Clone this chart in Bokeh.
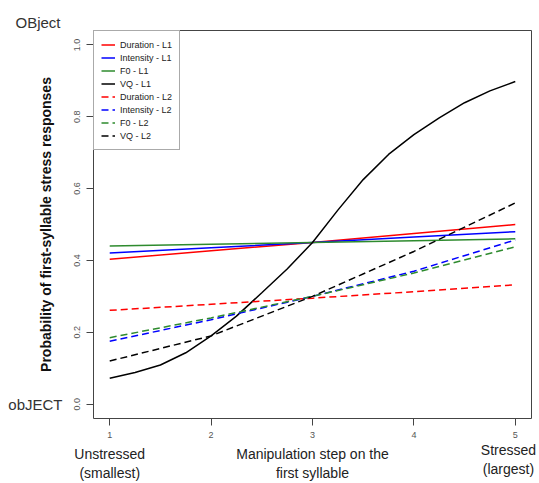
from bokeh.plotting import figure
from bokeh.models import (FixedTicker, Legend, LegendItem, Range1d, LinearAxis, Title)
from bokeh.embed import file_html
from bokeh.resources import INLINE

# ---- data ----
steps = [1, 2, 3, 4, 5]
vq_steps = [1, 1.25, 1.5, 1.75, 2, 2.25, 2.5, 2.75, 3, 3.25, 3.5, 3.75, 4, 4.25, 4.5, 4.75, 5]
duration_l1 = [0.403, 0.427, 0.45, 0.475, 0.50]
intensity_l1 = [0.421, 0.435, 0.45, 0.465, 0.48]
f0_l1 = [0.44, 0.445, 0.45, 0.455, 0.46]
vq_l1 = [0.072, 0.088, 0.109, 0.143, 0.19, 0.245, 0.31, 0.376, 0.45,
         0.54, 0.625, 0.695, 0.75, 0.797, 0.839, 0.872, 0.898]
duration_l2 = [0.261, 0.278, 0.295, 0.313, 0.332]
intensity_l2 = [0.175, 0.235, 0.30, 0.37, 0.457]
f0_l2 = [0.185, 0.24, 0.30, 0.365, 0.438]
vq_l2 = [0.12, 0.19, 0.30, 0.425, 0.56]

x_ticks = [1, 2, 3, 4, 5]
y_ticks = [0.0, 0.2, 0.4, 0.6, 0.8, 1.0]
y_tick_labels = ["0.0", "0.2", "0.4", "0.6", "0.8", "1.0"]
desc_ticks = [1, 3]
desc_labels = ["Unstressed\n(smallest)", "Manipulation step on the\nfirst syllable"]
end_tick = [5]
end_label = ["Stressed\n(largest)"]
low_end_tick = [0.0]
low_end_label = ["obJECT"]
high_end_label = "OBject"

FONT = "Liberation Sans"
RED, BLUE, GREEN, BLACK = "#ff0000", "#0000ff", "#2e8b2e", "#000000"
DASH = "7 4"

p = figure(width=539, height=483,
           x_range=Range1d(0.84, 5.16), y_range=Range1d(-0.04, 1.04),
           output_backend="svg", toolbar_location=None,
           min_border_left=93, min_border_right=8,
           min_border_top=30, min_border_bottom=65)

p.grid.visible = False
p.outline_line_color = "#444444"
p.outline_line_width = 1
p.background_fill_color = "white"
p.border_fill_color = "white"

# x axis
xa = p.xaxis[0]
xa.ticker = FixedTicker(ticks=x_ticks)
xa.axis_line_color = None
xa.major_tick_line_color = "#444444"
xa.major_tick_out = 7
xa.major_tick_in = 0
xa.minor_tick_line_color = None
xa.major_label_text_font = FONT
xa.major_label_text_font_size = "9px"
xa.major_label_text_color = "#555555"
xa.major_label_standoff = 6


def text_axis(ticks, labels, size, standoff):
    ax = LinearAxis(ticker=FixedTicker(ticks=ticks),
                    major_label_overrides=dict(zip(ticks, labels)))
    ax.axis_line_color = None
    ax.major_tick_line_color = None
    ax.minor_tick_line_color = None
    ax.major_tick_out = 0
    ax.major_tick_in = 0
    ax.major_label_text_font = FONT
    ax.major_label_text_font_size = size
    ax.major_label_text_color = "#222222"
    ax.major_label_standoff = standoff
    return ax


# descriptive labels below the tick numbers
p.add_layout(text_axis(end_tick, end_label, "14px", 1), "below")
p.add_layout(text_axis(desc_ticks, desc_labels, "14px", -34), "below")

# y axis
ya = p.yaxis[0]
ya.ticker = FixedTicker(ticks=y_ticks)
ya.major_label_overrides = {t: l for t, l in zip(y_ticks, y_tick_labels)}
ya.axis_line_color = None
ya.major_tick_line_color = "#444444"
ya.major_tick_out = 7
ya.major_tick_in = 0
ya.minor_tick_line_color = None
ya.major_label_orientation = "vertical"
ya.major_label_text_font = FONT
ya.major_label_text_font_size = "9px"
ya.major_label_text_color = "#555555"
ya.major_label_standoff = 6
ya.axis_label = "Probability of first-syllable stress responses"
ya.axis_label_text_font = FONT
ya.axis_label_text_font_style = "bold"
ya.axis_label_text_font_size = "14px"
ya.axis_label_text_color = "#111111"
ya.axis_label_standoff = 18

# end label at the low end of the y scale
yl = text_axis(low_end_tick, low_end_label, "15px", -28)
yl.major_label_orientation = "horizontal"
yl.major_label_text_color = "#333333"
p.add_layout(yl, "left")

# end label at the high end
p.add_layout(Title(text=high_end_label, align="left", offset=-78, standoff=0,
                   text_font=FONT, text_font_size="15px",
                   text_font_style="normal", text_color="#333333"), "above")

series = [
    ("Duration - L1", steps, duration_l1, RED, "solid"),
    ("Intensity - L1", steps, intensity_l1, BLUE, "solid"),
    ("F0 - L1", steps, f0_l1, GREEN, "solid"),
    ("VQ - L1", vq_steps, vq_l1, BLACK, "solid"),
    ("Duration - L2", steps, duration_l2, RED, DASH),
    ("Intensity - L2", steps, intensity_l2, BLUE, DASH),
    ("F0 - L2", steps, f0_l2, GREEN, DASH),
    ("VQ - L2", steps, vq_l2, BLACK, DASH),
]
items = []
for name, xs, ys, col, dash in series:
    r = p.line(xs, ys, line_color=col, line_width=1.5, line_dash=dash)
    items.append(LegendItem(label=name, renderers=[r]))

legend = Legend(items=items, location="top_left", margin=0, padding=7,
                spacing=0, glyph_width=14, glyph_height=13, label_height=13,
                label_standoff=5, label_text_font=FONT,
                label_text_font_size="9px", label_text_color="#222222",
                border_line_color="#555555", border_line_width=1,
                background_fill_color="white", background_fill_alpha=1)
p.add_layout(legend, "center")

open("out.html", "w").write(file_html(p, INLINE))
